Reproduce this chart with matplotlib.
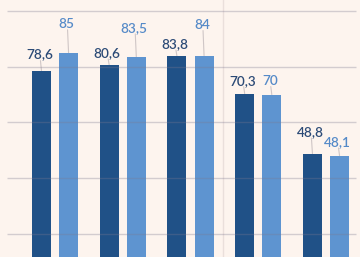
import matplotlib
matplotlib.use("Agg")
import matplotlib.pyplot as plt
import numpy as np

# ---- data ----
categories = ["1", "2", "3", "4", "5"]
series_dark = [78.6, 80.6, 83.8, 70.3, 48.8]
series_light = [85, 83.5, 84, 70, 48.1]
grid_values = [20, 40, 60, 80, 100]

# ---- style / layout ----
bg = "#fdf4ee"
c_dark = "#205187"
c_light = "#5e94d0"
t_dark = "#2b4a76"
t_light = "#558ac8"
base_dark = [12, 8, 8, 9, 17.5]     # label baseline above bar top, px
base_light = [25, 25, 27, 10, 9.5]

def fmt(v):
    s = ("%g" % v)
    return s.replace(".", ",")

fig = plt.figure(figsize=(3.6, 2.57), dpi=100, facecolor=bg)
ax = fig.add_axes([0, 0, 1, 1], facecolor=bg)
ax.set_xlim(-0.812, 4.502)
ax.set_ylim(11.67, 103.95)
ax.axis("off")

x = np.arange(len(categories))
w = 0.28
d = 0.2
bd = ax.bar(x - d, series_dark, w, color=c_dark, zorder=2)
bl = ax.bar(x + d, series_light, w, color=c_light, zorder=2)

# separator
ax.axvline(2.48, color="#eadfdb", lw=1, zorder=1)

# gridlines drawn over bars
ax.hlines(grid_values, -0.708, 4.443, color="#7c7890", alpha=0.32, lw=1, zorder=3)

def label(bars, vals, offs, col):
    for b, v, o in zip(bars, vals, offs):
        cx = b.get_x() + b.get_width() / 2
        ax.annotate("", xy=(cx, v), xytext=(-1, o - 2), textcoords="offset pixels",
                    arrowprops=dict(arrowstyle="-", color="#cfc6c6", lw=0.8,
                                    shrinkA=0, shrinkB=0), zorder=1)
        ax.annotate(fmt(v), xy=(cx, v), xytext=(-2, o), textcoords="offset pixels",
                    ha="center", va="baseline", color=col, fontsize=9.8,
                    family="Lato", fontweight="semibold", zorder=4)

label(bd, series_dark, base_dark, t_dark)
label(bl, series_light, base_light, t_light)

fig.savefig("out.png", dpi=100, facecolor=bg)
